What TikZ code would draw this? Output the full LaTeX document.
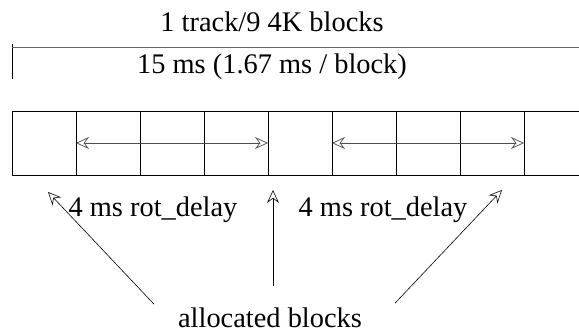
\documentclass[tikz,border=0pt]{standalone}
\usepackage{fontspec}
\setmainfont{Liberation Serif}
\usetikzlibrary{arrows.meta,positioning}

\begin{document}
\begin{tikzpicture}[
    x=1pt, y=-1pt,
    font=\rmfamily\fontsize{28.4pt}{34pt}\selectfont,
    blk/.style={draw, line width=0.8pt, minimum size=64pt, inner sep=0pt,
                outer sep=0pt},
    lbl/.style={inner sep=0pt, anchor=base},
    tip/.tip={Stealth[open, length=13pt, width=12pt, inset=4.5pt]},
    arrow/.style={-tip, line width=0.6pt},
    twoway/.style={tip-tip, line width=0.7pt, black!70},
    dim/.style={line width=0.8pt, black!60}
]
\useasboundingbox (0,0) rectangle (579,334);
\clip (0,0) rectangle (579,334);

% one track
\node[blk] (b1) at (44,143) {};
\node[blk, right=0pt of b1] (b2) {};
\node[blk, right=0pt of b2] (b3) {};
\node[blk, right=0pt of b3] (b4) {};
\node[blk, right=0pt of b4] (b5) {};
\node[blk, right=0pt of b5] (b6) {};
\node[blk, right=0pt of b6] (b7) {};
\node[blk, right=0pt of b7] (b8) {};
\node[blk, right=0pt of b8] (b9) {};

% track length
\coordinate (tick) at (12,44);
\coordinate (tickend) at (12,79);
\coordinate (dimend) at (579,47);
\draw[line width=0.8pt] (tick) -- (tickend);
\draw[dim] (12,47) -- (dimend);
\node[lbl] (track) at (272,32) {1 track/9 4K blocks};
\node[lbl] (time) at (272,74) {15 ms (1.67 ms / block)};

% gaps between allocated blocks
\draw[twoway] (b2.west) -- (b4.east);
\draw[twoway] (b6.west) -- (b8.east);
\node[lbl] (delay1) at (153,217) {4 ms rot\_delay};
\node[lbl] (delay2) at (383,217) {4 ms rot\_delay};

% allocated blocks
\node[lbl] (alloc) at (270,327) {allocated blocks};
\coordinate (tipa) at (48,192);
\coordinate (tipb) at (273,190);
\coordinate (tipc) at (502,190);
\draw[arrow] ([xshift=-24pt,yshift=3pt]alloc.north west) -- (tipa);
\draw[arrow] ([xshift=3pt,yshift=21pt]alloc.north) -- (tipb);
\draw[arrow] ([xshift=33pt,yshift=4pt]alloc.north east) -- (tipc);
\end{tikzpicture}
\end{document}
